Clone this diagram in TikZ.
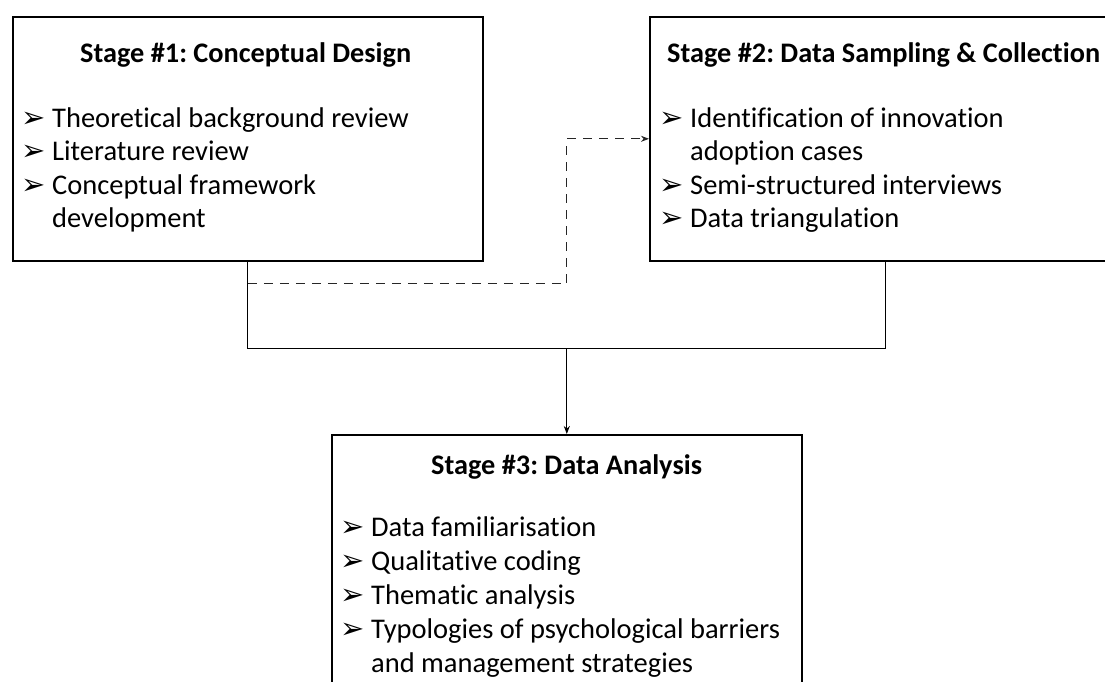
\documentclass[tikz,border=0pt]{standalone}
\usepackage{fontspec}
\setmainfont{Carlito}[Ligatures=NoCommon]
\newfontfamily\symfont{DejaVu Sans}
\usetikzlibrary{arrows.meta,calc}
\newcommand{\bul}{\makebox[31pt][l]{\raisebox{0pt}{\symfont\fontsize{29}{29}\selectfont ➢}}}
\tikzset{
  stagebox/.style={draw=black, line width=1.6pt, fill=none, inner sep=0pt, anchor=north west},
  title/.style={anchor=base west, inner sep=0pt, font=\fontsize{28.3}{34}\selectfont\bfseries\frenchspacing},
  item/.style={anchor=base west, inner sep=0pt, font=\fontsize{28.5}{34}\selectfont\frenchspacing},
  conn/.style={draw=black, line width=1.3pt},
  dconn/.style={draw=black!85, line width=1.3pt, dash pattern=on 9pt off 7pt, -{Stealth[length=8pt,width=6pt]}},
  aconn/.style={conn, -{Stealth[length=8pt,width=6pt]}}
}
\begin{document}
\begin{tikzpicture}[x=1pt,y=-1pt]
\useasboundingbox (0,0) rectangle (1105,681);
\clip (0,0) rectangle (1105,681);
% boxes
\node[stagebox, minimum width=470pt, minimum height=244pt] (b1) at (12,16) {};
\node[stagebox, minimum width=472pt, minimum height=244pt] (b2) at (649,16) {};
\node[stagebox, minimum width=470pt, minimum height=280pt] (b3) at (331,434) {};
% box 1 text
\node[title] (t1) at (80,62) {Stage \#1: Conceptual Design};
\node[item] (i11) at (21,127) {\bul Theoretical background review};
\node[item] (i12) at (21,160.5) {\bul Literature review};
\node[item] (i13) at (21,194) {\bul Conceptual framework};
\node[item] (i14) at (52,227.5) {development};
% box 2 text
\node[title] (t2) at (667,62) {Stage \#2: Data Sampling \& Collection};
\node[item] (i21) at (659,127) {\bul Identification of innovation};
\node[item] (i22) at (690,160.5) {adoption cases};
\node[item] (i23) at (659,194) {\bul Semi-structured interviews};
\node[item] (i24) at (659,227.5) {\bul Data triangulation};
% box 3 text
\node[title] (t3) at (431,474) {Stage \#3: Data Analysis};
\node[item] (i31) at (340,536) {\bul Data familiarisation};
\node[item] (i32) at (340,570) {\bul Qualitative coding};
\node[item] (i33) at (340,604) {\bul Thematic analysis};
\node[item] (i34) at (340,638) {\bul Typologies of psychological barriers};
\node[item] (i35) at (371,672) {and management strategies};
% connectors
\coordinate (m) at ($(b1.south)!0.5!(b2.south)+(0,87)$);
\coordinate (d0) at ($(b1.south)+(0,22)$);
\draw[conn] (b1.south) |- (m) -| (b2.south);
\draw[aconn] (m) -- (m |- b3.north);
\draw[dconn] (d0) -| (m |- b2.west) -- (b2.west);
\end{tikzpicture}
\end{document}
